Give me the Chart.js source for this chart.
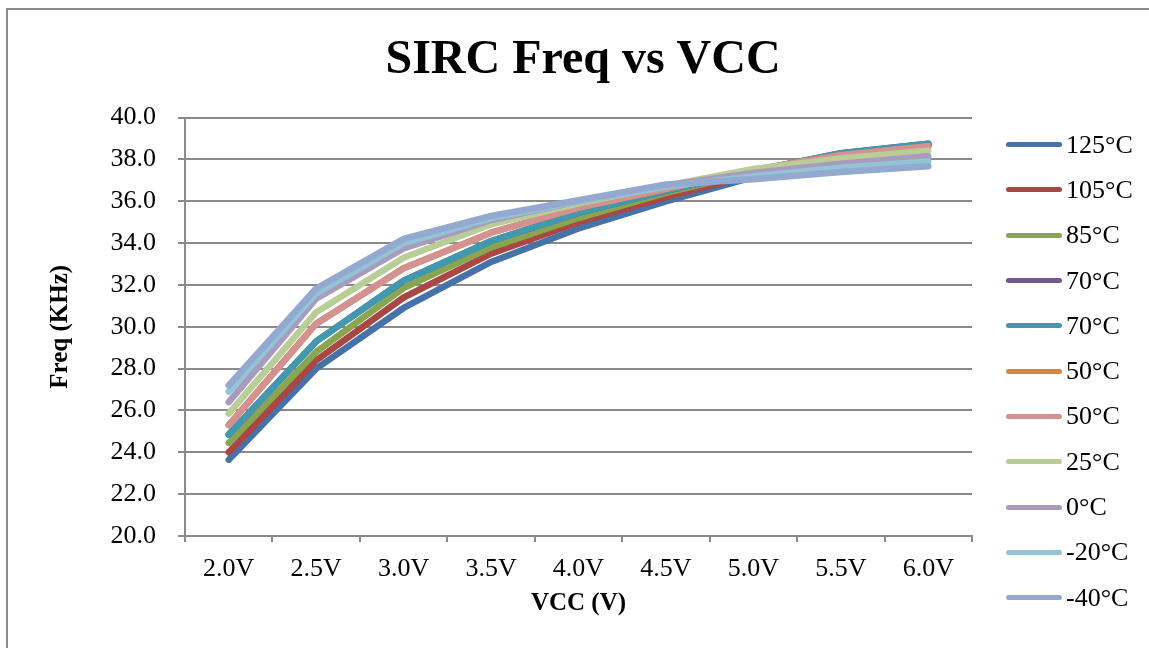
<!DOCTYPE html>
<html>
<head>
<meta charset="utf-8">
<title>SIRC Freq vs VCC</title>
<script src="https://cdn.jsdelivr.net/npm/chart.js@4"></script>
<style>
  body { margin: 0; background: #fff; overflow: hidden; }
  #wrap { position: relative; width: 1149px; height: 648px; }
  #frame {
    position: absolute; left: 6px; top: 8px; width: 1300px; height: 800px;
    border-left: 2px solid #8a8a8a; border-top: 2px solid #8a8a8a;
  }
  canvas { position: absolute; left: 0; top: 0; }
  #legend { position: absolute; left: 1006px; top: 122px; font-family: 'Liberation Serif', serif; font-size: 26px; color: #000; }
  .item { height: 45.3px; display: flex; align-items: center; }
  .swatch { width: 56px; height: 5px; border-radius: 3px; margin-right: 4px; }
</style>
</head>
<body>
<div id="wrap">
  <div id="frame"></div>
  <canvas id="chart" width="1149" height="648"></canvas>
  <div id="legend"></div>
</div>
<script>
const vcc = ["2.0V", "2.5V", "3.0V", "3.5V", "4.0V", "4.5V", "5.0V", "5.5V", "6.0V"];

const t125 = [23.65, 28.0, 30.9, 33.1, 34.7, 36.0, 37.15, 38.0, 38.7];
const t105 = [24.0, 28.4, 31.4, 33.5, 35.0, 36.2, 37.3, 38.1, 38.7];
const t85 = [24.45, 28.8, 31.85, 33.8, 35.2, 36.4, 37.4, 38.2, 38.7];
const t70a = [24.85, 29.3, 32.2, 34.1, 35.45, 36.5, 37.45, 38.3, 38.75];
const t70b = [24.85, 29.3, 32.2, 34.1, 35.45, 36.5, 37.45, 38.3, 38.75];
const t50a = [25.3, 30.15, 32.8, 34.5, 35.7, 36.6, 37.5, 38.2, 38.63];
const t50b = [25.3, 30.15, 32.8, 34.5, 35.7, 36.6, 37.5, 38.2, 38.63];
const t25 = [25.85, 30.7, 33.3, 34.9, 35.9, 36.75, 37.55, 38.05, 38.42];
const t0 = [26.4, 31.35, 33.75, 35.1, 36.0, 36.75, 37.35, 37.8, 38.15];
const tm20 = [26.9, 31.6, 34.0, 35.2, 36.0, 36.7, 37.2, 37.6, 37.9];
const tm40 = [27.2, 31.83, 34.2, 35.3, 36.05, 36.8, 37.05, 37.4, 37.68];

const names = ["125°C", "105°C", "85°C", "70°C", "70°C", "50°C", "50°C", "25°C", "0°C", "-20°C", "-40°C"];
const colors = ["#4672AA", "#AA4643", "#89A54E", "#71588F", "#4198AF", "#DB843D",
                "#D39290", "#B9CD96", "#A99BBD", "#92C3D6", "#93A9CF"];
const series = [t125, t105, t85, t70a, t70b, t50a, t50b, t25, t0, tm20, tm40];

const serif = "'Liberation Serif', 'Times New Roman', serif";

const datasets = series.map((data, i) => ({
  label: names[i],
  data: data,
  borderColor: colors[i],
  backgroundColor: colors[i],
  borderWidth: 6.5,
  borderJoinStyle: "round",
  borderCapStyle: "round",
  pointRadius: 0,
  tension: 0,
  // later series go on top
  order: series.length - i
}));

new Chart(document.getElementById("chart"), {
  type: "line",
  data: { labels: vcc, datasets: datasets },
  options: {
    responsive: false,
    animation: false,
    layout: { padding: { top: 20, left: 40, right: 23, bottom: 22 } },
    plugins: {
      legend: { display: false },
      tooltip: { enabled: false },
      title: {
        display: true,
        text: "SIRC Freq vs VCC",
        color: "#000",
        font: { family: serif, size: 48, weight: "bold" },
        padding: { top: 12, bottom: 28 }
      }
    },
    scales: {
      x: {
        offset: true,
        afterFit: s => { s.height = 90; },
        border: { color: "#8a8a8a", width: 2 },
        grid: { drawOnChartArea: false, offset: true, tickLength: 6, color: "#8a8a8a", lineWidth: 2 },
        ticks: { color: "#000", font: { family: serif, size: 26 }, padding: 12, maxRotation: 0 },
        title: {
          display: true, text: "VCC (V)", color: "#000",
          font: { family: serif, size: 25, weight: "bold" },
          padding: { top: 0, bottom: 7 }
        }
      },
      y: {
        min: 20,
        max: 40,
        afterFit: s => { s.width = 145; },
        border: { color: "#8a8a8a", width: 2 },
        grid: { tickLength: 7, color: "#8a8a8a", lineWidth: 2 },
        ticks: {
          stepSize: 2,
          color: "#000",
          font: { family: serif, size: 26 },
          padding: 22,
          callback: v => v.toFixed(1)
        },
        title: {
          display: true, text: "Freq (KHz)", color: "#000",
          font: { family: serif, size: 25, weight: "bold" },
          padding: { top: 6, bottom: 0 }
        }
      },
      // empty right-hand axis that holds room for the legend column
      room: {
        position: "right",
        afterFit: s => { s.width = 154; },
        border: { display: false },
        grid: { display: false },
        ticks: { display: false }
      }
    }
  }
});

// legend column on the right
const legend = document.getElementById("legend");
names.forEach((name, i) => {
  const row = document.createElement("div");
  row.className = "item";
  row.innerHTML = `<span class="swatch" style="background:${colors[i]}"></span><span>${name}</span>`;
  legend.appendChild(row);
});
</script>
</body>
</html>
